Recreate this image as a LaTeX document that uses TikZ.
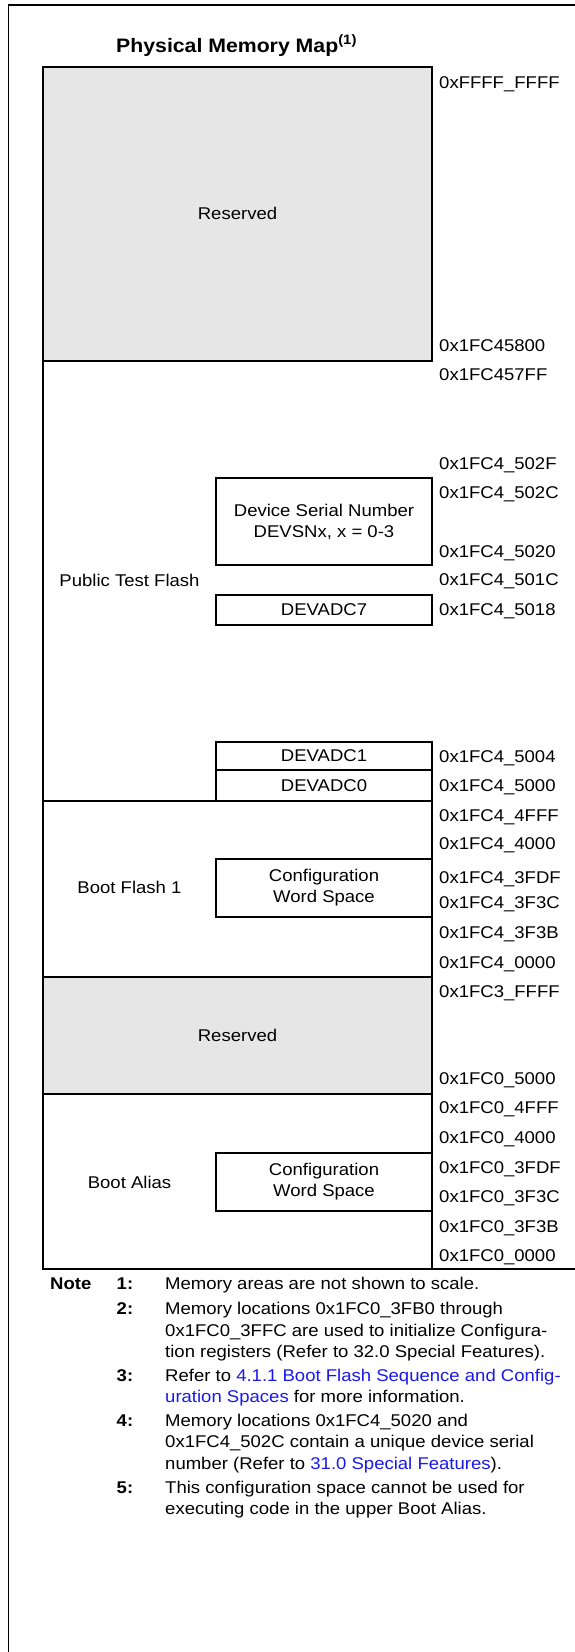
\documentclass[tikz,border=0pt]{standalone}
\usepackage{fontspec}
\setmainfont{Liberation Sans}[FakeStretch=1.09]
\usepackage{xcolor}
\usepackage{tikz}
\usetikzlibrary{positioning}

\definecolor{linkblue}{RGB}{25,25,235}
\definecolor{resgray}{RGB}{230,230,230}
\newcommand\mapfont{\fontsize{17}{21}\selectfont}
\newcommand\maptitlefont{\fontsize{19.5}{23}\selectfont\bfseries}

\begin{document}
\begin{tikzpicture}[
  x=1pt, y=-1pt,
  frame/.style={line width=1.6pt},
  cell/.style={draw, line width=1.8pt},
  reserved/.style={cell, fill=resgray},
  lbl/.style={inner sep=0pt, font=\mapfont, align=center},
  addr/.style={anchor=base west, inner sep=0pt, font=\mapfont},
  noteline/.style={anchor=base west, inner sep=0pt, font=\mapfont}
]
\useasboundingbox (0,0) rectangle (575,1652);
\draw[frame] (8.5,1652) -- (8.5,5) -- (575,5);
\node[anchor=base west, inner sep=0pt, font=\maptitlefont] (title) at (116,52) {Physical Memory Map\textsuperscript{(1)}};

% memory regions
\draw[reserved] (43,67) rectangle (432,361);
\node[lbl] (res1) at (237.5,213) {Reserved};
\draw[cell] (43,361) -- (43,801);
\node[lbl] (ptf) at (129.5,580) {Public Test Flash};
\draw[cell] (216,478) rectangle (432,565);
\node[lbl] (devsn) at (324,521.5) {Device Serial Number\\DEVSNx, x = 0-3};
\draw[cell] (216,595) rectangle (432,625);
\node[lbl] (adc7) at (324,610) {DEVADC7};
\draw[cell] (216,742) rectangle (432,770);
\node[lbl] (adc1) at (324,756) {DEVADC1};
\draw[cell] (216,770) rectangle (432,801);
\node[lbl] (adc0) at (324,785.5) {DEVADC0};

\draw[cell] (43,801) rectangle (432,977);
\node[lbl] (bf1) at (129.5,887) {Boot Flash 1};
\draw[cell] (216,859) rectangle (432,917);
\node[lbl] (cfg1) at (324,888) {Configuration\\Word Space};

\draw[reserved] (43,977) rectangle (432,1094);
\node[lbl] (res2) at (237.5,1035) {Reserved};

\draw[cell] (43,1094) rectangle (432,1269);
\node[lbl] (balias) at (129.5,1182) {Boot Alias};
\draw[cell] (216,1153) rectangle (432,1211);
\node[lbl] (cfg2) at (324,1182) {Configuration\\Word Space};
\draw[cell] (432,1269) -- (575,1269);

% addresses
\foreach \y/\a [count=\i] in {88/0xFFFF\_FFFF, 351/0x1FC45800, 380/0x1FC457FF,
  469/0x1FC4\_502F, 498/0x1FC4\_502C, 557/0x1FC4\_5020, 585/0x1FC4\_501C, 615/0x1FC4\_5018,
  762/0x1FC4\_5004, 791/0x1FC4\_5000, 821/0x1FC4\_4FFF, 849/0x1FC4\_4000,
  883/0x1FC4\_3FDF, 908/0x1FC4\_3F3C, 938/0x1FC4\_3F3B, 968/0x1FC4\_0000,
  997/0x1FC3\_FFFF, 1084/0x1FC0\_5000, 1113/0x1FC0\_4FFF, 1143/0x1FC0\_4000,
  1173/0x1FC0\_3FDF, 1202/0x1FC0\_3F3C, 1232/0x1FC0\_3F3B, 1261/0x1FC0\_0000}
  \node[addr] (addr\i) at (439,\y) {\a};

% notes
\node[noteline, font=\mapfont\bfseries] (note) at (50,1289) {Note};
\foreach \y/\n in {1289/1, 1314/2, 1381/3, 1426/4, 1493/5}
  \node[noteline, font=\mapfont\bfseries] (num\n) at (116.5,\y) {\n:};
\foreach \y/\t [count=\i] in {1289/{Memory areas are not shown to scale.},
  1314/{Memory locations 0x1FC0\_3FB0 through},
  1336/{0x1FC0\_3FFC are used to initialize Configura-},
  1357/{tion registers (Refer to 32.0 Special Features).},
  1381/{Refer to \textcolor{linkblue}{4.1.1 Boot Flash Sequence and Config-}},
  1402/{\textcolor{linkblue}{uration Spaces} for more information.},
  1426/{Memory locations 0x1FC4\_5020 and},
  1447/{0x1FC4\_502C contain a unique device serial},
  1469/{number (Refer to \textcolor{linkblue}{31.0 Special Features}).},
  1493/{This configuration space cannot be used for},
  1514/{executing code in the upper Boot Alias.}}
  \node[noteline] (txt\i) at (165,\y) {\t};
\end{tikzpicture}
\end{document}
